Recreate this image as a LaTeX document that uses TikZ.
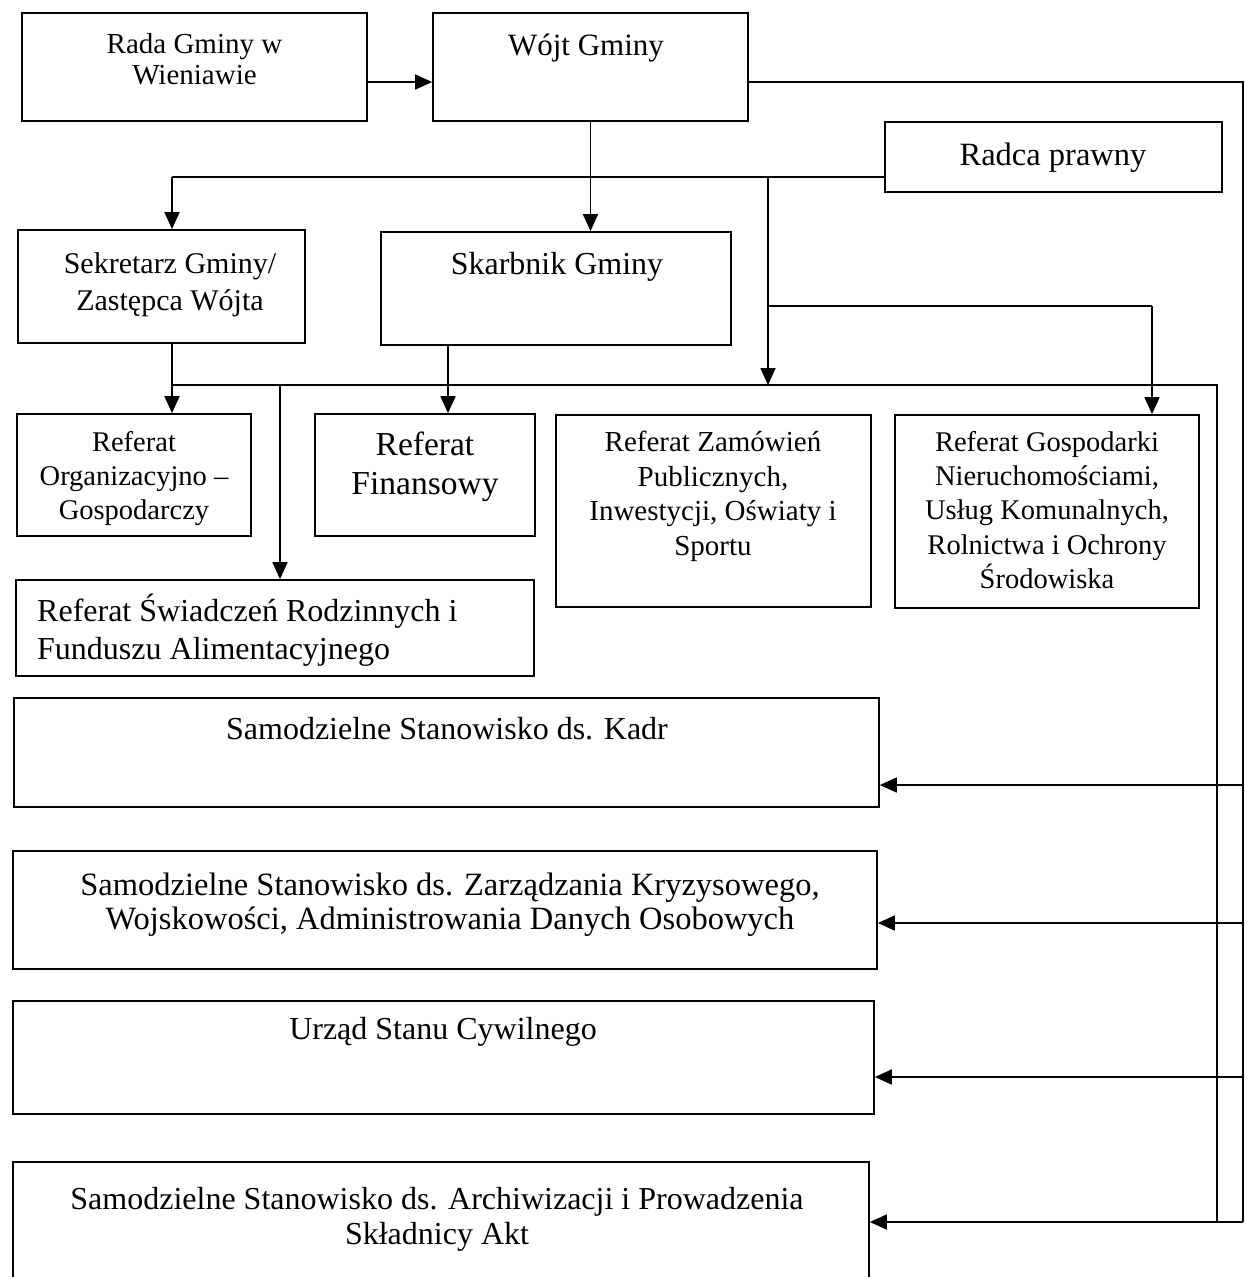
\documentclass[tikz,border=0pt]{standalone}
\usepackage{fontspec}
\setmainfont{Liberation Serif}
\usetikzlibrary{arrows.meta}
\newcommand\mybox[5]{\node[box, minimum width={(#4-#2)*1pt}, minimum height={(#5-#3)*1pt}] (#1) at ({(#2+#4)/2},{(#3+#5)/2}) {};}
\newcommand\fs[2]{\fontsize{#1}{#2}\selectfont}
\begin{document}
\begin{tikzpicture}[x=1pt,y=-1pt,
  box/.style={draw, line width=1.7pt, inner sep=0pt, rectangle},
  txt/.style={anchor=north, inner sep=0pt, align=center, execute at begin node={\rule{0pt}{30pt}}, yshift=30pt},
  txtl/.style={anchor=north west, inner sep=0pt, align=left, execute at begin node={\rule{0pt}{30pt}}, yshift=30pt},
  conn/.style={line width=1.7pt},
  arr/.style={line width=1.7pt, -{Triangle[width=15pt,length=17pt]}}]
\useasboundingbox (0,0) rectangle (1245,1277);
\clip (0,0) rectangle (1245,1277);
% boxes
\mybox{rada}{22}{13}{367}{121}
\mybox{wojt}{433}{13}{748}{121}
\mybox{radca}{885}{122}{1222}{192}
\mybox{sekr}{18}{230}{305}{343}
\mybox{skarb}{381}{232}{731}{345}
\mybox{org}{17}{414}{251}{536}
\mybox{fin}{315}{414}{535}{536}
\mybox{zam}{556}{415}{871}{607}
\mybox{gosp}{895}{415}{1199}{608}
\mybox{swiad}{16}{580}{534}{676}
\mybox{kadr}{14}{698}{879}{807}
\mybox{zarz}{13}{851}{877}{969}
\mybox{usc}{13}{1001}{874}{1114}
\mybox{arch}{13}{1162}{869}{1295}
% texts
\node[txt, font=\fs{29}{31}] (rada-t) at (194.5,63) {Rada Gminy w\\Wieniawie};
\node[txt, font=\fs{31}{37}] (wojt-t) at (586,55) {Wójt Gminy};
\node[txt, font=\fs{32.5}{37}] (radca-t) at (1053,165) {Radca prawny};
\node[txt, font=\fs{30}{37}] (sekr-t) at (170,282) {Sekretarz Gminy/\\Zastępca Wójta};
\node[txt, font=\fs{32}{37}] (skarb-t) at (557,274) {Skarbnik Gminy};
\node[txt, font=\fs{28.5}{34}] (org-t) at (134,461) {Referat\\Organizacyjno –\\Gospodarczy};
\node[txt, font=\fs{33.5}{39}] (fin-t) at (425,462) {Referat\\Finansowy};
\node[txt, font=\fs{29}{34.5}] (zam-t) at (713,461) {Referat Zamówień\\Publicznych,\\Inwestycji, Oświaty i\\Sportu};
\node[txt, font=\fs{28.5}{34.3}] (gosp-t) at (1047,461) {Referat Gospodarki\\Nieruchomościami,\\Usług Komunalnych,\\Rolnictwa i Ochrony\\Środowiska};
\node[txtl, font=\fs{32}{37.5}] (swiad-t) at (37,624) {Referat Świadczeń Rodzinnych i\\Funduszu Alimentacyjnego};
\node[txt, font=\fs{32}{37}] (kadr-t) at (447,739) {Samodzielne Stanowisko ds. Kadr};
\node[txt, font=\fs{32.5}{34}] (zarz-t) at (450,903) {Samodzielne Stanowisko ds. Zarządzania Kryzysowego,\\Wojskowości, Administrowania Danych Osobowych};
\node[txt, font=\fs{32}{37}] (usc-t) at (443,1039) {Urząd Stanu Cywilnego};
\node[txt, font=\fs{32}{35}] (arch-t) at (437,1217) {Samodzielne Stanowisko ds. Archiwizacji i Prowadzenia\\Składnicy Akt};
% junction coordinates
\coordinate (R1) at (1243,82);
\coordinate (R2) at (1243,1222);
\coordinate (L1) at (172,177);
\coordinate (J1) at (768,177);
\coordinate (J2) at (768,306);
\coordinate (G1) at (1152,306);
\coordinate (B0) at (172,385);
\coordinate (S1) at (448,385);
\coordinate (W1) at (280,385);
\coordinate (B1) at (1217,385);
\coordinate (B2) at (1217,1222);
\coordinate (A1) at (1243,785);
\coordinate (A2) at (1243,923);
\coordinate (A3) at (1243,1077);
% connectors
\draw[arr] (rada.east |- R1) -- (wojt.west |- R1);
\draw[conn] (wojt.east |- R1) -- (R1) -- (R2);
\draw[arr] (wojt.south) -- (wojt.south |- skarb.north);
\draw[conn] (radca.west |- L1) -- (L1);
\draw[arr] (L1) -- (L1 |- sekr.north);
\draw[arr] (J1) -- (J1 |- B0);
\draw[conn] (J2) -- (G1);
\draw[arr] (G1) -- (G1 |- gosp.north);
\draw[conn] (B0 |- sekr.south) -- (B0) -- (B1) -- (B2) -- (R2);
\draw[arr] (B0) -- (B0 |- org.north);
\draw[arr] (S1 |- skarb.south) -- (S1 |- fin.north);
\draw[arr] (W1) -- (W1 |- swiad.north);
\draw[arr] (A1) -- (kadr.east |- A1);
\draw[arr] (A2) -- (zarz.east |- A2);
\draw[arr] (A3) -- (usc.east |- A3);
\draw[arr] (R2) -- (arch.east |- R2);
\end{tikzpicture}
\end{document}
